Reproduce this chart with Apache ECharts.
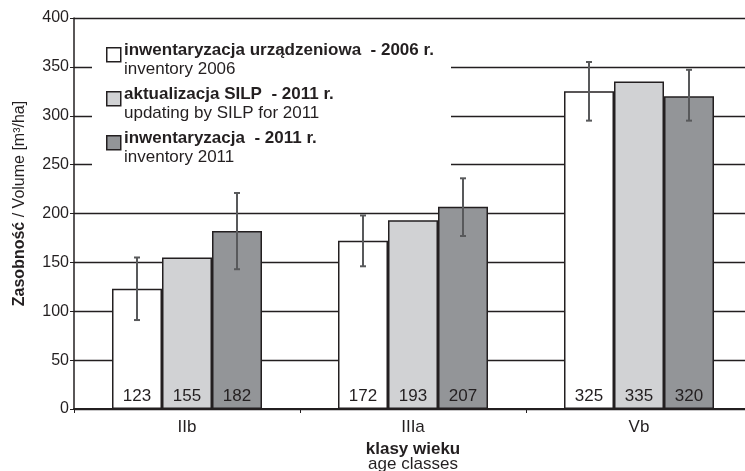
<!DOCTYPE html>
<html>
<head>
<meta charset="utf-8">
<script src="https://cdn.jsdelivr.net/npm/echarts@6/dist/echarts.min.js"></script>
<style>
  html, body { margin: 0; padding: 0; background: #fff; }
  #chart { width: 745px; height: 471px; }
</style>
</head>
<body>
<div id="chart"></div>
<script>
// age classes
const categories = ['IIb', 'IIIa', 'Vb'];
// volume m3/ha
const inventory2006 = [123, 172, 325];
const silp2011 = [155, 193, 335];
const inventory2011 = [182, 207, 320];
// error bars [low, high]
const err2006 = [[91, 155], [146, 198], [295, 355]];
const err2011 = [[143, 221], [177, 236], [295, 347]];

const legendItems = [
  { bold: 'inwentaryzacja urządzeniowa  - 2006 r.', text: 'inventory 2006', color: '#ffffff' },
  { bold: 'aktualizacja SILP  - 2011 r.', text: 'updating by SILP for 2011', color: '#d1d2d4' },
  { bold: 'inwentaryzacja  - 2011 r.', text: 'inventory 2011', color: '#939598' }
];

const FONT = "'Liberation Sans', Arial, sans-serif";
const INK = '#231f20';
const BAR_W = 50;

let chart = echarts.init(document.getElementById('chart'));

function errorBar(offset) {
  return function (params, api) {
    let x = api.coord([api.value(0), 0])[0] + offset;
    let yLow = api.coord([api.value(0), api.value(1)])[1];
    let yHigh = api.coord([api.value(0), api.value(2)])[1];
    let st = { stroke: '#58595b', lineWidth: 2 };
    return {
      type: 'group',
      children: [
        { type: 'line', shape: { x1: x, y1: yLow, x2: x, y2: yHigh }, style: st },
        { type: 'line', shape: { x1: x - 3, y1: yLow, x2: x + 3, y2: yLow }, style: st },
        { type: 'line', shape: { x1: x - 3, y1: yHigh, x2: x + 3, y2: yHigh }, style: st }
      ]
    };
  };
}

function barSeries(name, data, color) {
  return {
    name: name,
    type: 'bar',
    data: data,
    barWidth: BAR_W,
    barGap: 0,
    itemStyle: { color: color, borderColor: INK, borderWidth: 1.5 },
    label: {
      show: true,
      position: 'insideBottom',
      distance: 4,
      fontFamily: FONT,
      fontSize: 17,
      color: INK
    }
  };
}

// legend drawn as graphic (two-line entries)
let legendGraphic = [{
  type: 'rect', left: 92, top: 24, shape: { width: 359, height: 156 },
  style: { fill: '#fff' }, z: 50
}];
legendItems.forEach((it, i) => {
  let y = 47 + i * 44;
  legendGraphic.push({
    type: 'rect', left: 106, top: y, shape: { width: 14, height: 14 },
    style: { fill: it.color, stroke: INK, lineWidth: 1.5 }, z: 51
  });
  legendGraphic.push({
    type: 'text', left: 124, top: y - 5,
    style: { text: it.bold, font: 'bold 17px ' + FONT, fill: INK }, z: 51
  });
  legendGraphic.push({
    type: 'text', left: 124, top: y + 14,
    style: { text: it.text, font: '17px ' + FONT, fill: INK }, z: 51
  });
});

let option = {
  animation: false,
  backgroundColor: '#fff',
  textStyle: { fontFamily: FONT },
  grid: { left: 74, top: 18, width: 678, height: 391, containLabel: false, outerBoundsMode: 'none' },
  xAxis: {
    type: 'category',
    data: categories,
    axisLine: { lineStyle: { color: INK, width: 2 } },
    axisTick: { show: true, length: 4, lineStyle: { color: INK } },
    axisLabel: { color: INK, fontSize: 17, margin: 10, fontFamily: FONT },
    name: '{b|klasy wieku}\n{n|age classes}',
    nameLocation: 'middle',
    nameGap: 32,
    nameTextStyle: {
      rich: {
        b: { fontWeight: 'bold', fontSize: 17, color: INK, fontFamily: FONT, lineHeight: 15 },
        n: { fontSize: 17, color: INK, fontFamily: FONT, lineHeight: 15 }
      }
    }
  },
  yAxis: {
    type: 'value',
    min: 0,
    max: 400,
    interval: 50,
    axisLine: { show: true, lineStyle: { color: INK, width: 1.5 } },
    axisTick: { show: true, length: 4, lineStyle: { color: INK } },
    axisLabel: { color: INK, fontSize: 16, margin: 5, fontFamily: FONT },
    splitLine: { show: true, lineStyle: { color: INK, width: 1.3 } },
    name: '{b|Zasobność}{n| / Volume [m³/ha]}',
    nameLocation: 'middle',
    nameGap: 46,
    nameRotate: 90,
    nameTextStyle: {
      padding: [0, 0, 0, 20],
      rich: {
        b: { fontWeight: 'bold', fontSize: 16, color: INK, fontFamily: FONT },
        n: { fontSize: 16, color: INK, fontFamily: FONT }
      }
    }
  },
  graphic: legendGraphic,
  series: [
    barSeries('inwentaryzacja urządzeniowa - 2006 r.', inventory2006, '#ffffff'),
    barSeries('aktualizacja SILP - 2011 r.', silp2011, '#d1d2d4'),
    barSeries('inwentaryzacja - 2011 r.', inventory2011, '#939598'),
    {
      type: 'custom',
      renderItem: errorBar(-BAR_W),
      data: err2006.map((e, i) => [i, e[0], e[1]]),
      encode: { x: 0, y: [1, 2] },
      z: 10
    },
    {
      type: 'custom',
      renderItem: errorBar(BAR_W),
      data: err2011.map((e, i) => [i, e[0], e[1]]),
      encode: { x: 0, y: [1, 2] },
      z: 10
    }
  ]
};

chart.setOption(option);
</script>
</body>
</html>
